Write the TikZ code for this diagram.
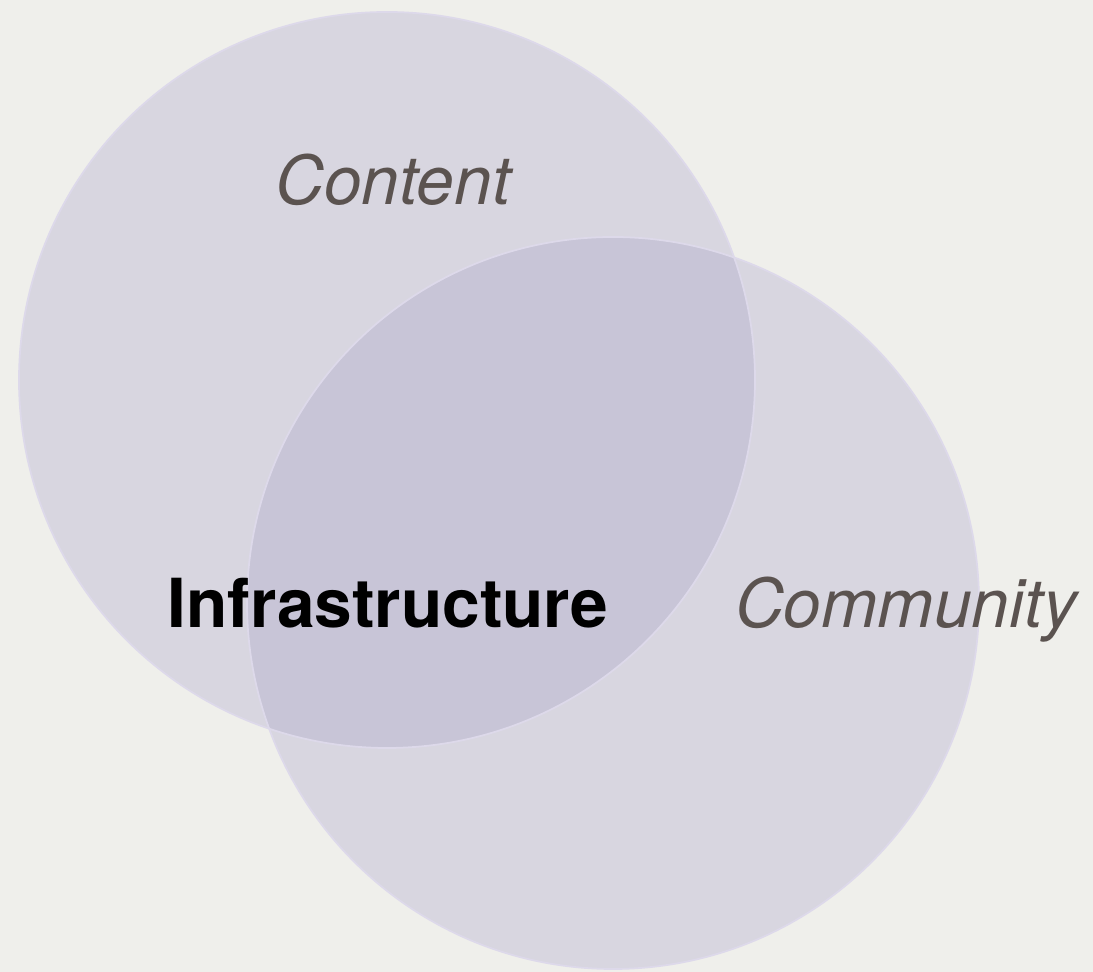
\documentclass[tikz,border=0pt]{standalone}
\usepackage{fontspec}
\setmainfont{TeX Gyre Heros}
\definecolor{paper}{HTML}{EFEFEB}
\definecolor{disc}{HTML}{D8D6E0}
\definecolor{discedge}{HTML}{DDD9EA}
\definecolor{overlap}{HTML}{C8C5D7}
\definecolor{labelgray}{HTML}{5B5350}
\tikzset{
  area/.style={font=\fontsize{38.5}{40}\selectfont\itshape, text=labelgray, anchor=base},
  core/.style={font=\fontsize{38.5}{40}\selectfont\bfseries, text=black, anchor=base}
}
\begin{document}
\begin{tikzpicture}[x=0.02cm, y=0.02cm]
        \fill[paper] (0,0) rectangle (1093,972);
        \useasboundingbox (0,0) rectangle (1093,972);
        \fill[disc] (387,592) circle (368);
        \fill[disc] (613,369) circle (366);
        \begin{scope}
          \clip (387,592) circle (368);
          \fill[overlap] (613,369) circle (366);
        \end{scope}
        \draw[discedge, line width=1pt] (387,592) circle (368);
        \draw[discedge, line width=1pt] (613,369) circle (366);
        \node[area] (content) at (393,767) {Content};
        \node[core] (infra) at (388,344) {Infrastructure};
        \node[area] (community) at (906,344) {Community};
\end{tikzpicture}
\end{document}
